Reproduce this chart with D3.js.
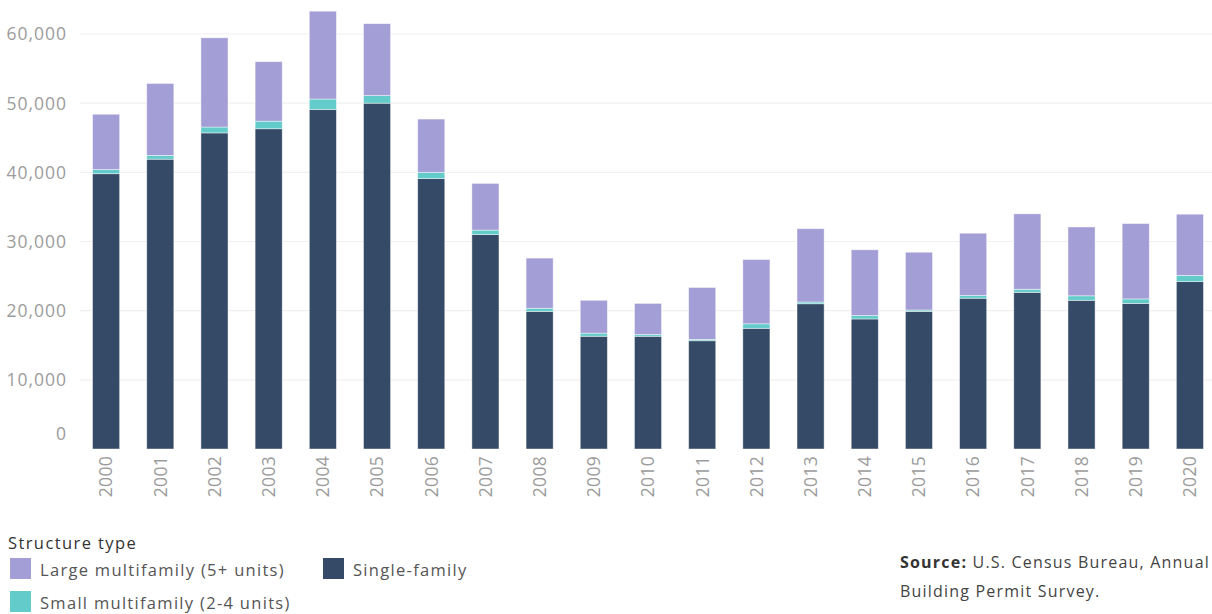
<!DOCTYPE html>
<html>
<head>
<meta charset="utf-8">
<script src="https://cdn.jsdelivr.net/npm/d3@7"></script>
<style>
  html, body { margin: 0; padding: 0; background: #fff; }
  svg { display: block; font-family: "Open Sans", sans-serif; }
</style>
</head>
<body>
<svg id="chart" width="1212" height="614"></svg>
<script>
const years = ["2000","2001","2002","2003","2004","2005","2006","2007","2008","2009","2010",
               "2011","2012","2013","2014","2015","2016","2017","2018","2019","2020"];
const singleFamily = [39800,41900,45700,46300,49100,50000,39100,31000,19900,16300,16300,
                      15650,17450,21000,18800,19900,21800,22650,21500,21050,24200];
const smallMulti   = [600,550,850,1100,1500,1100,900,650,450,450,250,
                      200,650,250,500,200,400,450,650,650,900];
const largeMulti   = [8000,10400,12900,8600,12700,10400,7700,6750,7250,4750,4500,
                      7500,9300,10600,9500,8350,9000,10900,9950,10900,8850];
const yTicks = [0,10000,20000,30000,40000,50000,60000];
const seriesKeys = ["single","small","large"];
const seriesLabels = {
  large: "Large multifamily (5+ units)",
  small: "Small multifamily (2-4 units)",
  single: "Single-family"
};
const colors = { single: "#344A66", small: "#63CCCA", large: "#A39ED6" };

const rows = years.map((y, i) => ({
  year: y, single: singleFamily[i], small: smallMulti[i], large: largeMulti[i]
}));

const svg = d3.select("#chart");
const x = d3.scaleBand().domain(years).range([79, 1217]).paddingInner(0.5).paddingOuter(0.25);
const y = d3.scaleLinear().domain([0, 60000]).range([449, 34]);

// gridlines
svg.append("g").selectAll("line")
  .data(yTicks.filter(d => d > 0))
  .join("line")
  .attr("x1", 80).attr("x2", 1212)
  .attr("y1", d => y(d)).attr("y2", d => y(d))
  .attr("stroke", "#f0f0f0").attr("stroke-width", 1.2);

// y axis labels
const yAxis = d3.axisLeft(y).tickValues(yTicks).tickFormat(d3.format(",")).tickSize(0).tickPadding(0);
const yg = svg.append("g").attr("transform", "translate(67,0)").call(yAxis);
yg.select(".domain").remove();
yg.selectAll("text")
  .attr("fill", "#9c9c9c").attr("font-size", 17.5)
  .attr("letter-spacing", "1px")
  .attr("font-family", "'Open Sans', sans-serif")
  .attr("dy", d => d === 0 ? "-0.55em" : "0.34em");

// stacked bars
const stack = d3.stack().keys(seriesKeys)(rows);
svg.append("g").selectAll("g")
  .data(stack)
  .join("g")
  .attr("fill", d => colors[d.key])
  .selectAll("rect")
  .data(d => d)
  .join("rect")
  .attr("x", d => x(d.data.year))
  .attr("width", x.bandwidth())
  .attr("y", d => y(d[1]))
  .attr("height", d => y(d[0]) - y(d[1]))
  .attr("stroke", "rgba(255,255,255,0.55)")
  .attr("stroke-width", 0.8);

// x axis labels
const xAxis = d3.axisBottom(x).tickSize(0).tickPadding(0);
const xg = svg.append("g").attr("transform", "translate(0,456)").call(xAxis);
xg.select(".domain").remove();
xg.selectAll("text")
  .attr("fill", "#9c9c9c").attr("font-size", 17.5)
  .attr("letter-spacing", "0.3px")
  .attr("font-family", "'Open Sans', sans-serif")
  .attr("text-anchor", "end")
  .attr("transform", "rotate(-90)")
  .attr("x", 0).attr("y", 0).attr("dy", "0.36em");

// legend
const legend = svg.append("g");
legend.append("text").attr("x", 8).attr("y", 549)
  .attr("font-size", 16.5).attr("letter-spacing", "1.4px").attr("fill", "#333").text("Structure type");
const legendItems = [
  { key: "large", x: 10, y: 558 },
  { key: "small", x: 10, y: 591 },
  { key: "single", x: 323, y: 558 }
];
const li = legend.selectAll("g.item").data(legendItems).join("g").attr("class", "item")
  .attr("transform", d => `translate(${d.x},${d.y})`);
li.append("rect").attr("width", 21).attr("height", 21).attr("fill", d => colors[d.key]);
li.append("text").attr("x", 30).attr("y", 18).attr("font-size", 16.5).attr("letter-spacing", "1.3px")
  .attr("fill", "#555").text(d => seriesLabels[d.key]);

// source
const src = svg.append("text").attr("x", 900).attr("y", 568).attr("font-size", 16)
  .attr("letter-spacing", "1.2px").attr("fill", "#444");
src.append("tspan").attr("font-weight", "bold").attr("fill", "#333").text("Source:");
src.append("tspan").text(" U.S. Census Bureau, Annual");
svg.append("text").attr("x", 900).attr("y", 597).attr("font-size", 16)
  .attr("letter-spacing", "1.2px").attr("fill", "#444")
  .text("Building Permit Survey.");
</script>
</body>
</html>
